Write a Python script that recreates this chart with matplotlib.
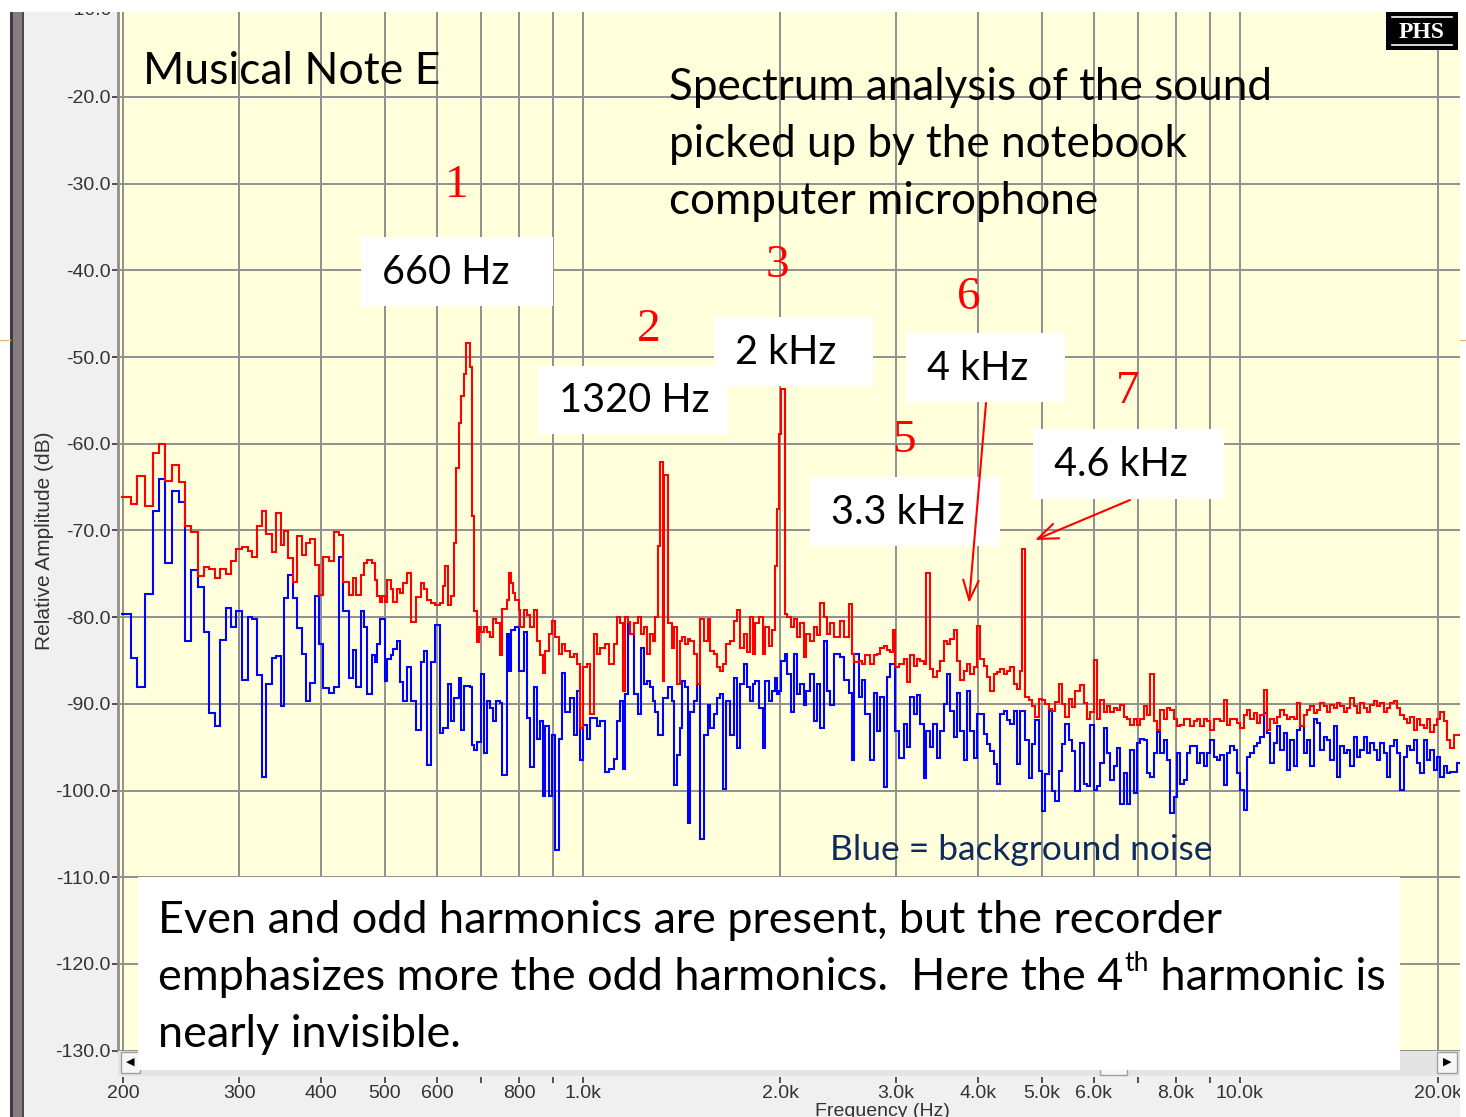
import matplotlib.pyplot as plt
from matplotlib.patches import Rectangle

plt.rcParams['font.family'] = ['Liberation Sans', 'DejaVu Sans']

# spectrum bins: left edges in Hz, level in dB
# 198 - 459 Hz
edges_a = [198, 205, 210, 215.6, 221.9, 226.4, 231.7, 237.2, 242.8, 247.9,
           253.5, 259.5, 265, 269.7, 276.1, 280.3, 286.2, 291.7, 297.2, 303.2,
           309.2, 314, 319.5, 325.2, 329.8, 336, 341.9, 347.6, 350.8, 356.2,
           362.5, 366.8, 374.2, 379.8, 385.2, 392, 396.6, 402.7, 410.7, 418,
           425.4, 432, 440.6, 446.8, 452.1, 459]
mic_a = [-66.1, -67.0, -63.7, -67.2, -61.1, -60.0, -64.3, -62.5, -64.4, -69.5,
         -70.2, -75.3, -74.2, -74.5, -75.5, -74.5, -75.0, -73.5, -72.1, -71.9,
         -72.4, -73.1, -69.5, -67.7, -70.4, -72.5, -68.0, -71.7, -70.1, -73.2,
         -75.9, -70.6, -72.8, -71.4, -71.0, -74.0, -77.4, -73.1, -73.5, -70.2,
         -70.5, -75.9, -77.4, -75.5, -77.4, -75.1]
noise_a = [-79.6, -84.7, -88.0, -77.3, -67.7, -64.1, -73.7, -65.4, -66.7, -82.7,
           -74.6, -76.5, -81.7, -91.0, -92.6, -82.6, -78.9, -81.1, -79.3, -87.2,
           -80.0, -80.2, -86.7, -98.4, -87.7, -84.7, -84.5, -90.2, -77.8, -75.1,
           -77.8, -81.3, -84.3, -89.7, -87.6, -77.5, -83.1, -88.2, -88.8, -88.0,
           -73.1, -79.3, -87.0, -83.8, -88.0, -79.3]

# 464 - 1052 Hz (660 Hz fundamental)
edges_b = [464.3, 469.9, 478.2, 482.1, 486.7, 491.1, 495.3, 499.3, 504, 509.9,
           514.7, 520.7, 526.7, 533, 539.3, 546.9, 558.5, 566.4, 573, 579.8,
           586.6, 596.9, 607.4, 613.2, 618.1, 623.1, 630.6, 636.3, 642.4, 647.6,
           653.8, 660.7, 665.3, 673, 678.7, 682.5, 690.7, 694.6, 700.5, 706.9,
           715.4, 723.7, 730.6, 739, 747.6, 754, 767.3, 771.6, 778.1, 783.6,
           789.9, 799.1, 803.9, 813.2, 823, 832.6, 842.2, 852.3, 862.2, 870.4,
           877.5, 887.7, 898.3, 908.8, 919.3, 930.3, 941.2, 957.8, 969, 980.6,
           992, 1001.4, 1015.6, 1027.4, 1039.3, 1051.8]
mic_b = [-73.7, -73.4, -73.7, -75.7, -77.6, -78.2, -77.6, -78.3, -75.7, -76.8,
         -78.2, -76.7, -77.2, -76.1, -74.9, -80.5, -77.7, -76.1, -76.8, -78.0,
         -78.4, -78.6, -78.4, -76.4, -74.1, -78.6, -77.6, -71.4, -62.8, -57.6,
         -54.5, -52.0, -48.4, -51.2, -68.3, -79.3, -82.9, -81.1, -81.7, -81.1,
         -81.7, -82.3, -80.2, -80.7, -84.4, -79.0, -78.0, -74.9, -76.1, -77.2,
         -78.0, -79.2, -81.1, -79.2, -79.8, -81.1, -79.2, -82.7, -84.4, -86.4,
         -83.9, -81.9, -80.4, -82.3, -84.2, -83.1, -83.9, -84.6, -84.2, -85.4,
         -92.8, -85.8, -85.4, -91.2, -81.9, -84.2]
noise_b = [-81.1, -88.9, -84.4, -85.2, -83.1, -80.2, -80.2, -87.4, -84.8, -84.4,
           -83.7, -82.7, -87.5, -89.7, -85.8, -89.7, -93.0, -85.2, -83.9, -97.1,
           -85.2, -80.9, -93.4, -92.8, -92.8, -87.7, -92.0, -89.3, -89.3, -87.0,
           -93.0, -87.9, -87.9, -88.1, -94.7, -95.3, -94.4, -94.4, -86.6, -95.7,
           -89.7, -90.5, -92.0, -89.7, -89.9, -98.2, -81.9, -86.2, -81.5, -81.5,
           -81.1, -86.2, -86.2, -81.7, -91.6, -97.3, -88.1, -94.0, -92.0, -100.6,
           -92.6, -100.6, -93.6, -106.8, -94.0, -86.4, -90.9, -89.3, -93.6, -88.5,
           -96.5, -92.4, -94.0, -91.6, -91.6, -92.6]

# 1064 - 2411 Hz (1320 Hz and 2 kHz)
edges_c = [1064, 1082.8, 1095.4, 1114.8, 1128.2, 1138.5, 1152.1, 1161.4, 1170.8, 1182,
           1195.7, 1212.6, 1227.2, 1238.4, 1253.2, 1264.7, 1279.9, 1290.2, 1300.6, 1309.8,
           1325.5, 1330.1, 1350.4, 1368, 1379, 1392.2, 1404.9, 1416.8, 1433.2, 1444.8,
           1458.6, 1475.5, 1493.2, 1506.9, 1528.2, 1549.7, 1564.5, 1582.7, 1601.6, 1620.3,
           1635.7, 1654.7, 1678.1, 1697.6, 1717.9, 1737.9, 1758.1, 1779.2, 1795.4, 1817,
           1831.6, 1852.9, 1881.8, 1897, 1919, 1942, 1965.3, 1977, 1993, 2005,
           2030.4, 2047.6, 2071.4, 2095.5, 2120.6, 2145, 2170, 2190.6, 2216, 2247.4,
           2274.4, 2300.8, 2327.6, 2355.4, 2382.8, 2410.6]
mic_c = [-83.5, -83.1, -85.4, -83.1, -80.0, -80.7, -88.5, -80.0, -80.5, -81.9,
         -80.7, -80.0, -81.9, -81.1, -84.2, -81.9, -82.7, -80.0, -71.8, -62.1,
         -87.4, -63.6, -80.7, -83.5, -81.1, -87.7, -82.7, -82.3, -83.1, -82.5,
         -82.7, -84.2, -87.7, -80.2, -82.7, -80.2, -83.9, -84.2, -85.8, -86.2,
         -85.4, -83.1, -82.7, -80.4, -79.2, -83.5, -81.9, -84.0, -80.0, -84.2,
         -80.7, -80.0, -84.2, -81.1, -83.3, -81.5, -74.1, -67.5, -58.9, -53.7,
         -79.6, -80.0, -81.1, -80.2, -82.3, -80.7, -84.6, -81.9, -82.7, -81.1,
         -82.1, -78.4, -80.0, -81.9, -80.7, -82.3]
noise_c = [-92.0, -97.9, -97.5, -96.3, -92.0, -89.7, -97.5, -88.9, -80.7, -81.9,
           -88.9, -91.2, -83.5, -87.7, -87.4, -88.1, -89.7, -90.9, -93.6, -93.6,
           -89.3, -89.3, -88.1, -89.7, -99.4, -95.9, -92.8, -87.4, -88.1, -103.7,
           -90.9, -89.7, -87.7, -105.6, -93.6, -90.1, -92.8, -91.2, -89.3, -88.9,
           -99.8, -89.7, -93.6, -87.0, -95.1, -87.7, -85.4, -88.1, -89.7, -87.7,
           -87.4, -90.5, -95.1, -87.4, -89.7, -88.5, -87.0, -88.9, -88.5, -85.0,
           -84.2, -86.6, -90.9, -84.2, -88.9, -87.7, -90.1, -88.5, -86.6, -92.0,
           -87.7, -92.8, -82.7, -88.5, -90.1, -84.2]

# 2468 - 5622 Hz (3.3, 4 and 4.6 kHz)
edges_d = [2467.8, 2496.6, 2540.8, 2571.2, 2585.6, 2631.4, 2662.8, 2694, 2741.6, 2773.4,
           2806.6, 2839.2, 2872.2, 2906.6, 2940.4, 2968.4, 2992.4, 3027.2, 3080.6, 3117.6,
           3153.8, 3190.4, 3228.6, 3266.2, 3304.2, 3335.6, 3374.4, 3414.8, 3463, 3503.4,
           3544, 3586.6, 3628.4, 3670.6, 3714.6, 3757.8, 3801.6, 3847, 3891.8, 3937,
           3984.2, 4020.6, 4077.4, 4126.2, 4174.2, 4222.6, 4273.2, 4323, 4373.2, 4425.6,
           4477.2, 4529.2, 4583.4, 4636.8, 4664.4, 4718.8, 4773.6, 4830.8, 4887, 4943.8,
           5003, 5061.2, 5120, 5181.4, 5241.6, 5302.6, 5366, 5428.4, 5491.6, 5557.4,
           5622]
mic_d = [-80.4, -82.3, -78.5, -84.2, -85.2, -85.0, -85.4, -84.4, -85.4, -84.4,
         -84.2, -83.5, -83.3, -83.8, -84.0, -81.5, -85.8, -85.4, -84.8, -87.5,
         -84.4, -85.6, -84.8, -85.0, -85.4, -74.9, -86.0, -86.9, -86.2, -85.0,
         -82.7, -83.1, -82.5, -81.5, -85.0, -87.3, -86.2, -85.4, -86.5, -85.8,
         -81.0, -84.8, -85.6, -86.9, -88.5, -86.5, -86.3, -86.0, -86.5, -86.2,
         -85.8, -87.7, -88.3, -86.2, -72.1, -89.2, -89.6, -90.2, -91.5, -89.4,
         -89.6, -90.0, -90.6, -90.8, -89.8, -87.7, -90.0, -91.5, -89.4, -90.4,
         -88.5]
noise_d = [-84.6, -87.3, -88.8, -96.5, -84.2, -89.2, -87.3, -91.2, -96.5, -88.8,
           -93.1, -89.2, -99.6, -86.9, -85.4, -85.4, -93.1, -96.2, -92.3, -95.0,
           -89.2, -91.2, -89.0, -92.3, -98.5, -93.1, -95.0, -92.3, -96.2, -93.1,
           -90.0, -86.5, -90.8, -93.8, -88.8, -93.1, -96.5, -88.5, -93.1, -96.2,
           -91.2, -91.2, -93.5, -94.6, -95.4, -96.9, -99.2, -91.2, -90.8, -91.9,
           -92.3, -90.8, -96.9, -90.8, -90.8, -94.2, -98.5, -94.6, -91.9, -97.7,
           -102.3, -98.1, -90.8, -100.0, -101.2, -97.7, -94.6, -92.3, -94.2, -95.4,
           -100.0]

# 5.7 - 21.4 kHz
edges_e = [5721, 5789, 5857, 5925, 5995, 6066, 6137, 6209, 6282, 6356,
           6430, 6506, 6582, 6660, 6738, 6817, 6897, 6978, 7060, 7143,
           7227, 7312, 7398, 7485, 7573, 7662, 7752, 7843, 7935, 8028,
           8123, 8218, 8315, 8413, 8511, 8611, 8713, 8815, 8918, 9023,
           9129, 9237, 9345, 9455, 9566, 9678, 9792, 9907, 10024, 10141,
           10260, 10381, 10503, 10626, 10751, 10878, 11005, 11135, 11266, 11398,
           11532, 11667, 11804, 11943, 12083, 12225, 12369, 12514, 12661, 12810,
           12961, 13113, 13267, 13423, 13581, 13740, 13902, 14065, 14230, 14398,
           14567, 14738, 14911, 15086, 15264, 15443, 15624, 15808, 15994, 16182,
           16372, 16564, 16759, 16956, 17155, 17356, 17560, 17767, 17976, 18187,
           18400, 18617, 18835, 19057, 19281, 19507, 19736, 19968, 20203, 20440,
           20680, 20923, 21169, 21418]
mic_e = [-87.8, -89.9, -91.8, -90.9, -84.9, -91.8, -89.5, -90.9, -90.3, -90.9,
         -90.5, -90.7, -90.1, -91.5, -91.8, -92.4, -91.7, -92.4, -91.7, -90.3,
         -91.3, -86.5, -92.0, -93.0, -90.7, -91.8, -90.5, -90.7, -91.8, -92.6,
         -92.4, -91.8, -91.7, -92.6, -92.0, -91.8, -92.6, -91.8, -92.0, -93.0,
         -91.8, -91.7, -92.0, -89.5, -92.4, -91.8, -91.7, -92.2, -92.8, -91.3,
         -90.7, -91.7, -91.1, -92.2, -91.3, -88.4, -93.0, -91.8, -92.2, -91.5,
         -90.7, -91.3, -91.7, -91.5, -91.8, -89.9, -92.6, -91.3, -90.7, -90.3,
         -91.1, -90.7, -89.9, -90.3, -90.9, -90.1, -90.5, -89.9, -90.3, -90.9,
         -90.5, -89.3, -90.3, -91.1, -89.9, -90.5, -90.9, -90.1, -89.7, -90.3,
         -89.9, -90.9, -90.5, -89.9, -89.7, -90.5, -91.3, -91.7, -92.2, -91.5,
         -93.0, -91.8, -92.4, -92.8, -91.8, -93.2, -92.4, -91.7, -90.9, -92.0,
         -94.2, -95.1, -93.6, -93.6]
noise_e = [-94.5, -99.2, -99.5, -92.4, -99.9, -99.5, -96.8, -92.8, -95.7, -98.8,
           -97.2, -95.1, -101.5, -98.0, -101.5, -95.3, -100.3, -94.5, -94.0, -94.2,
           -98.0, -98.4, -95.7, -93.2, -95.7, -94.2, -96.5, -102.6, -100.7, -95.7,
           -99.2, -98.8, -95.7, -94.9, -94.9, -96.8, -95.7, -97.2, -95.7, -94.2,
           -96.1, -96.5, -95.9, -99.3, -95.7, -94.9, -95.3, -98.0, -99.9, -102.2,
           -96.1, -95.7, -94.9, -94.5, -93.8, -91.1, -93.4, -96.8, -94.5, -92.6,
           -95.3, -93.4, -97.6, -94.2, -97.2, -93.0, -92.6, -95.7, -94.2, -97.2,
           -91.8, -92.2, -95.3, -93.8, -94.2, -96.5, -92.6, -98.4, -94.9, -95.7,
           -95.3, -97.2, -93.8, -96.1, -95.3, -93.8, -95.7, -94.5, -95.3, -96.5,
           -94.5, -95.7, -98.4, -94.9, -94.2, -95.7, -99.9, -96.1, -94.9, -95.3,
           -94.2, -96.8, -98.0, -94.2, -96.5, -95.3, -97.6, -96.1, -98.4, -97.2,
           -98.0, -97.8, -97.8, -96.8]

freq_edges = edges_a + edges_b + edges_c + edges_d + edges_e + [21650]
mic_db = mic_a + mic_b + mic_c + mic_d + mic_e
noise_db = noise_a + noise_b + noise_c + noise_d + noise_e

major_f = [200, 300, 400, 500, 600, 800, 1000, 2000, 3000, 4000, 5000, 6000, 8000, 10000, 20000]
major_lbl = ['200', '300', '400', '500', '600', '800', '1.0k', '2.0k', '3.0k', '4.0k',
             '5.0k', '6.0k', '8.0k', '10.0k', '20.0k']
minor_f = [700, 900, 7000, 9000]
db_ticks = list(range(-20, -131, -10))

W, H = 1466, 1117
fig = plt.figure(figsize=(W / 100, H / 100), dpi=100, facecolor='#F0F0F0')
ax = fig.add_axes([118 / W, 1 - 1050.7 / H, (1460 - 118) / W, (1050.7 - 12) / H])
ax.set_facecolor('#FFFFDC')
ax.set_xscale('log')
ax.set_xlim(196.2, 21640)
ax.set_ylim(-130, -10.2)

ax.stairs(noise_db, freq_edges, baseline=None, color='#0000FF', lw=1.5, zorder=3)
ax.stairs(mic_db, freq_edges, baseline=None, color='#FF0000', lw=1.5, zorder=4)

ax.set_xticks(major_f, major_lbl)
ax.set_xticks(minor_f, [''] * len(minor_f), minor=True)
ax.set_yticks(db_ticks, [f'{v:.1f}' for v in db_ticks])
ax.grid(True, which='both', color='#8F8F8F', lw=1.4)
ax.set_axisbelow(True)
for s in ['top', 'right', 'bottom']:
    ax.spines[s].set_visible(False)
ax.spines['bottom'].set_position(('outward', 19))
ax.spines['left'].set_color('#8F8F8F')
ax.spines['left'].set_linewidth(2)
ax.tick_params(which='both', direction='out', length=4.5, width=1.2, color='#333333',
               labelsize=14, labelcolor='#333333', pad=1)

# overlay in pixel coordinates for the slide decorations
ov = fig.add_axes([0, 0, 1, 1], zorder=5)
ov.set_xlim(0, W)
ov.set_ylim(H, 0)
ov.axis('off')

# window chrome
ov.add_patch(Rectangle((118, 1051), 1342, 25, fc='#E4E4E4', ec='none'))
ov.add_patch(Rectangle((121, 1052), 19, 21, fc='#F7F7F7', ec='#A0A0A0', lw=1))
ov.add_patch(Rectangle((1437, 1052), 20, 21, fc='#F7F7F7', ec='#A0A0A0', lw=1))
ov.add_patch(Rectangle((1100, 1066), 27, 9, fc='#F7F7F7', ec='#A0A0A0', lw=1))
ov.text(130.5, 1062, '◀', fontsize=8, ha='center', va='center', family='DejaVu Sans')
ov.text(1447, 1062, '▶', fontsize=8, ha='center', va='center', family='DejaVu Sans')
ov.text(112, 10.3, '-10.0', fontsize=14, color='#333333', ha='right', va='center')
ov.text(45, 541, 'Relative Amplitude (dB)', fontsize=15, color='#333333', rotation=90,
        ha='center', va='center')
ov.text(882, 1103, 'Frequency (Hz)', fontsize=14, color='#333333', ha='center', va='top')
ov.add_patch(Rectangle((0, 0), W, 12, fc='white', ec='none', zorder=10))
ov.add_patch(Rectangle((0, 0), 10, H, fc='white', ec='none', zorder=10))
ov.add_patch(Rectangle((1460, 12), 6, H, fc='white', ec='none', zorder=10))
ov.add_patch(Rectangle((10, 12), 14, H, fc='#8A7B7E', ec='none', zorder=10))
ov.add_patch(Rectangle((10, 12), 2.5, H, fc='#3C3C48', ec='none', zorder=10))
ov.add_patch(Rectangle((21.5, 12), 2.5, H, fc='#4A4A55', ec='none', zorder=10))
ov.plot([0, 10], [340, 340], color='#E6B87A', lw=1, zorder=11)
ov.plot([1460, 1466], [340, 340], color='#E6B87A', lw=1, zorder=11)

# PHS logo
ov.add_patch(Rectangle((1386, 12), 72, 38, fc='black', ec='none', zorder=12))
ov.plot([1392, 1452], [17, 17], color='white', lw=1.2, zorder=13)
ov.plot([1392, 1452], [45, 45], color='white', lw=1.2, zorder=13)
ov.text(1422, 32, 'PHS', family='Liberation Serif', weight='bold', fontsize=17,
        color='white', ha='center', va='center', zorder=13)

sans = 'Lato'
ov.text(143, 84, 'Musical Note E', family=sans, fontsize=32, va='baseline')
for i, line in enumerate(['Spectrum analysis of the sound', 'picked up by the notebook',
                          'computer microphone']):
    ov.text(669, 100 + 57 * i, line, family=sans, fontsize=31.7, va='baseline')

# frequency labels in white boxes
boxes = [(361, 237, 192, 69, '660 Hz'), (538, 366, 190, 68, '1320 Hz'),
         (714, 317, 159, 69, '2 kHz'), (906, 333, 159, 69, '4 kHz'),
         (810, 477, 190, 69, '3.3 kHz'), (1033, 429, 191, 70, '4.6 kHz')]
for bx, by, bw, bh, lbl in boxes:
    ov.add_patch(Rectangle((bx, by), bw, bh, fc='white', ec='none'))
    ov.text(bx + 21, by + bh / 2 + 1, lbl, family=sans, fontsize=28.5, va='center')

# harmonic numbers
for num, nx, ny in [('1', 457, 197), ('2', 649, 341), ('3', 777, 277),
                    ('6', 969, 309), ('5', 904, 452), ('7', 1128, 403)]:
    ov.text(nx, ny, num, family='Liberation Serif', fontsize=34, color='#FF0000',
            ha='center', va='baseline')

arrow = dict(arrowstyle='->,head_length=0.9,head_width=0.35', color='#FF0000', lw=1.5,
             mutation_scale=16, shrinkA=0, shrinkB=0)
ov.annotate('', xy=(969, 603), xytext=(986, 403), arrowprops=arrow)
ov.annotate('', xy=(1035, 540), xytext=(1130, 500), arrowprops=arrow)

ov.text(830, 860, 'Blue = background noise', family=sans, fontsize=25.5, color='#0E2A5E',
        va='baseline')

# bottom text box
big = 32.4
ov.add_patch(Rectangle((138, 877), 1262, 193, fc='white', ec='none'))
ov.text(158, 933, 'Even and odd harmonics are present, but the recorder', family=sans,
        fontsize=big, va='baseline')
t1 = ov.text(158, 990, 'emphasizes more the odd harmonics.  Here the 4', family=sans,
             fontsize=big, va='baseline')
ov.text(158, 1047, 'nearly invisible.', family=sans, fontsize=big, va='baseline')

fig.canvas.draw()
inv = ov.transData.inverted()
x_end = inv.transform(t1.get_window_extent().p1)[0]
t2 = ov.text(x_end + 1, 971, 'th', family=sans, fontsize=19, va='baseline')
fig.canvas.draw()
x_end2 = inv.transform(t2.get_window_extent().p1)[0]
ov.text(x_end2, 990, ' harmonic is', family=sans, fontsize=big, va='baseline')

fig.savefig('out.png', dpi=100, facecolor=fig.get_facecolor())
